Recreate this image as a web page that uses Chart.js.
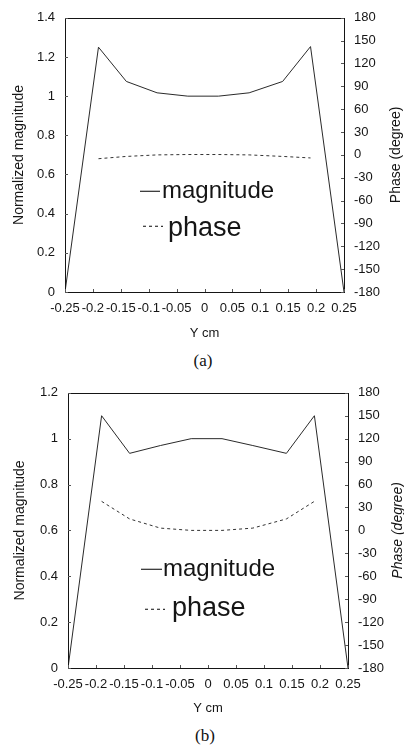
<!DOCTYPE html>
<html>
<head>
<meta charset="utf-8">
<script src="https://cdn.jsdelivr.net/npm/chart.js@4"></script>
<style>
  body { margin:0; background:#fff; width:404px; height:745px; position:relative; overflow:hidden; }
  .panel { position:absolute; left:0; width:404px; }
  .cap { position:absolute; left:0; width:404px; text-align:center; font-family:"Liberation Serif","Times New Roman",serif; font-size:17px; color:#111; }
</style>
</head>
<body>
<div class="panel" style="top:0"><canvas id="chartA" width="404" height="345"></canvas></div>
<div class="cap" style="top:351px;left:1px">(a)</div>
<div class="panel" style="top:375px"><canvas id="chartB" width="404" height="345"></canvas></div>
<div class="cap" style="top:726px;left:3px">(b)</div>
<script>
// ============ DATA ============
const xMag = [-0.25, -0.19, -0.14, -0.085, -0.03, 0.025, 0.08, 0.14, 0.19, 0.25];
const xPhase = [-0.19, -0.14, -0.085, -0.03, 0.025, 0.08, 0.14, 0.19];

const magA = [0, 1.25, 1.075, 1.017, 1.0, 1.0, 1.017, 1.075, 1.253, 0];
const phaseA = [-5, -2, 0, 0.5, 0.5, 0, -2, -4];

const magB = [0, 1.1, 0.936, 0.97, 1.0, 1.0, 0.97, 0.936, 1.1, 0];
const phaseB = [38, 15, 3, 0, 0, 3, 15, 38];

const xTicks = [-0.25, -0.2, -0.15, -0.1, -0.05, 0, 0.05, 0.1, 0.15, 0.2, 0.25];
const magTicksA = [0, 0.2, 0.4, 0.6, 0.8, 1, 1.2, 1.4];
const magTicksB = [0, 0.2, 0.4, 0.6, 0.8, 1, 1.2];
const phaseTicks = [-180, -150, -120, -90, -60, -30, 0, 30, 60, 90, 120, 150, 180];

const FONT = '"Liberation Sans", Arial, Helvetica, sans-serif';
const INK = '#151515';

// frame, inward ticks, legend inside plot, right axis title (reads bottom-to-top)
const figExtras = {
  id:'figExtras',
  afterDraw(chart, args, o) {
    const ctx = chart.ctx, a = chart.chartArea;
    ctx.save();
    ctx.strokeStyle = INK; ctx.lineWidth = 1;
    ctx.strokeRect(Math.round(a.left)+0.5, Math.round(a.top)+0.5, Math.round(a.right-a.left), Math.round(a.bottom-a.top));
    // small inward ticks
    ctx.lineWidth = 1; ctx.strokeStyle = '#555';
    ctx.beginPath();
    chart.scales.y.ticks.forEach(t=>{ const y=Math.round(chart.scales.y.getPixelForValue(t.value))+0.5; ctx.moveTo(a.left,y); ctx.lineTo(a.left+3,y); });
    chart.scales.y1.ticks.forEach(t=>{ const y=Math.round(chart.scales.y1.getPixelForValue(t.value))+0.5; ctx.moveTo(a.right,y); ctx.lineTo(a.right-3,y); });
    chart.scales.x.ticks.forEach(t=>{ const x=Math.round(chart.scales.x.getPixelForValue(t.value))+0.5; ctx.moveTo(x,a.bottom); ctx.lineTo(x,a.bottom-3); });
    ctx.stroke();

    // legend
    const ds = chart.data.datasets;
    o.legend.forEach((l,i)=>{
      const d = ds[i];
      ctx.strokeStyle = d.borderColor; ctx.lineWidth = 1.2;
      ctx.setLineDash(d.borderDash || []);
      ctx.beginPath();
      ctx.moveTo(a.left+l.x0, a.top+l.ly+0.5); ctx.lineTo(a.left+l.x1, a.top+l.ly+0.5);
      ctx.stroke();
      ctx.setLineDash([]);
      ctx.fillStyle = INK;
      ctx.font = l.size+'px '+FONT;
      ctx.textBaseline = 'alphabetic'; ctx.textAlign = 'left';
      ctx.fillText(d.label, a.left+l.tx, a.top+l.ty);
    });

    // right title
    ctx.translate(o.rightTitle.x, (a.top+a.bottom)/2);
    ctx.rotate(-Math.PI/2);
    ctx.font = (o.rightTitle.italic?'italic ':'')+'14px '+FONT;
    ctx.textAlign = 'center'; ctx.textBaseline = 'middle';
    ctx.fillText(o.rightTitle.text, 0, 0);
    ctx.restore();
  }
};

function fmt(d){ return v => String(+(+v).toFixed(d)); }

function makeChart(id, mag, phase, magTicks, cfg) {
  return new Chart(document.getElementById(id), {
    type:'line',
    data:{ datasets:[
      { label:'magnitude', data:xMag.map((x,i)=>({x, y:mag[i]})), yAxisID:'y', borderColor:'#2a2a2a', borderWidth:1, pointRadius:0, tension:0, fill:false },
      { label:'phase', data:xPhase.map((x,i)=>({x, y:phase[i]})), yAxisID:'y1', borderColor:'#333', borderWidth:1, borderDash:[3,3], pointRadius:0, tension:0, fill:false }
    ]},
    options:{
      responsive:false, animation:false, devicePixelRatio:1,
      layout:{ padding:{ top:cfg.top, left:0, right:0, bottom:0 } },
      plugins:{ legend:{display:false}, tooltip:{enabled:false},
        figExtras:{ legend:cfg.legend, rightTitle:cfg.rightTitle } },
      scales:{
        x:{ type:'linear', min:-0.25, max:0.25,
          afterBuildTicks:s=>{ s.ticks = xTicks.map(v=>({value:v})); },
          afterFit:s=>{ s.height = 345-cfg.bottom; },
          grid:{display:false, drawTicks:false}, border:{display:false},
          ticks:{ autoSkip:false, maxRotation:0, minRotation:0, padding:9, color:INK, font:{family:FONT, size:13}, callback:fmt(2) },
          title:{ display:true, text:'Y cm', color:INK, font:{family:FONT, size:13}, padding:{top:0,bottom:4} } },
        y:{ position:'left', min:magTicks[0], max:magTicks[magTicks.length-1],
          afterBuildTicks:s=>{ s.ticks = magTicks.map(v=>({value:v})); },
          afterFit:s=>{ s.width = cfg.left; },
          grid:{display:false, drawTicks:false}, border:{display:false},
          ticks:{ padding:10, color:INK, font:{family:FONT, size:13}, callback:fmt(1) },
          title:{ display:true, text:'Normalized magnitude', color:INK, font:{family:FONT, size:14}, padding:{top:cfg.ltPad, bottom:0} } },
        y1:{ position:'right', min:-180, max:180,
          afterBuildTicks:s=>{ s.ticks = phaseTicks.map(v=>({value:v})); },
          afterFit:s=>{ s.width = 404-cfg.right; },
          grid:{display:false, drawTicks:false}, border:{display:false},
          ticks:{ padding:10, color:INK, font:{family:FONT, size:13}, callback:fmt(0) } }
      }
    },
    plugins:[figExtras]
  });
}

makeChart('chartA', magA, phaseA, magTicksA, {
  top:15, bottom:292, left:65, right:344, ltPad:11,
  legend:[ {x0:75, x1:95, ly:173, tx:97, ty:180, size:24}, {x0:78, x1:98, ly:208, tx:103, ty:218, size:27} ],
  rightTitle:{ x:396, text:'Phase (degree)', italic:false }
});
makeChart('chartB', magB, phaseB, magTicksB, {
  top:17, bottom:293, left:68, right:348, ltPad:12,
  legend:[ {x0:73, x1:94, ly:176, tx:95, ty:183, size:24}, {x0:77, x1:97, ly:216, tx:104, ty:223, size:27} ],
  rightTitle:{ x:398, text:'Phase (degree)', italic:true }
});
</script>
</body>
</html>
